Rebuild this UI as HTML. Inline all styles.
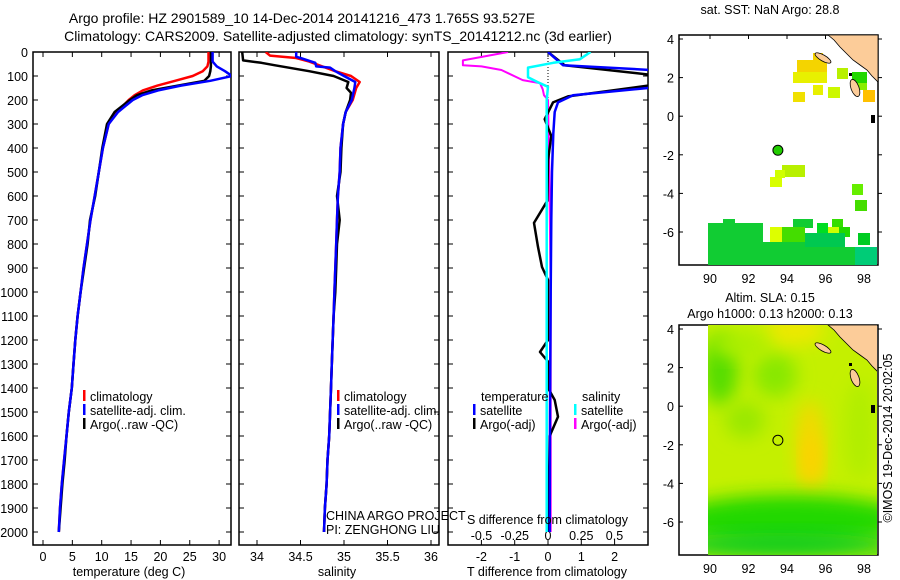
<!DOCTYPE html>
<html><head><meta charset="utf-8"><style>
html,body{margin:0;padding:0;background:#fff;}
svg{display:block;font-family:"Liberation Sans",sans-serif;}
text{font-size:12.5px;fill:#000;}
</style></head><body>
<svg id="c" width="900" height="580" viewBox="0 0 900 580" xmlns="http://www.w3.org/2000/svg">
<defs>
<clipPath id="cp1"><rect x="33" y="52" width="198" height="493"/></clipPath>
<clipPath id="cp2"><rect x="239" y="52" width="200" height="493"/></clipPath>
<clipPath id="cp3"><rect x="448" y="52" width="200" height="493"/></clipPath>
<clipPath id="cm1"><rect x="679" y="35" width="199" height="230"/></clipPath>
<clipPath id="cm2"><rect x="708" y="325" width="169" height="230"/></clipPath>
<filter id="blur" x="-50%" y="-50%" width="200%" height="200%"><feGaussianBlur stdDeviation="9"/></filter>
</defs>
<text x="302" y="23" text-anchor="middle" style="font-size:14px">Argo profile: HZ 2901589_10 14-Dec-2014 20141216_473 1.765S 93.527E</text>
<text x="338" y="41" text-anchor="middle" style="font-size:14px">Climatology: CARS2009. Satellite-adjusted climatology: synTS_20141212.nc (3d earlier)</text>
<g id="g1"></g>
<g id="g2"></g>
<g id="g3"></g>
<g id="m1"></g>
<g id="m2"></g>
<text transform="translate(892,438) rotate(-90)" text-anchor="middle">©IMOS 19-Dec-2014 20:02:05</text>
</svg>
<script>
// ---- profile data ----
const depthTicks=[0,100,200,300,400,500,600,700,800,900,1000,1100,1200,1300,1400,1500,1600,1700,1800,1900,2000];
const tempTicks=[0,5,10,15,20,25,30];
const salTicks=[34,34.5,35,35.5,36];
const salTickLabels=["34","34.5","35","35.5","36"];
const dtTicks=[-2,-1,0,1,2];
const dsTicks=[-0.5,-0.25,0,0.25,0.5];
const dsTickLabels=["-0.5","-0.25","0","0.25","0.5"];
const deepDepths=[300,400,500,600,700,800,900,1000,1100,1200,1300,1400,1500,1600,1700,1800,1900,2000];
const tClimDepth=[0,40,60,80,100,120,140,160,180,200,250];
const tClim=[28.2,28.2,28.0,27.2,25.5,22.5,19.5,17.0,15.6,14.6,12.6];
const tSatDepth=[0,40,60,80,100,120,140,160,180,200,250];
const tSat=[28.9,28.9,29.6,31.0,32.2,28.5,23.5,19.6,16.9,15.3,12.8];
const tArgoDepth=[0,40,60,80,100,120,140,160,180,200,250];
const tArgo=[28.6,28.6,28.6,28.5,28.3,27.5,23.0,18.5,16.0,14.8,12.2];
const tDeep=[11.2,10.2,9.5,8.8,8.1,7.5,6.9,6.4,5.9,5.5,5.2,4.9,4.4,4.0,3.6,3.2,2.9,2.7];
const tArgoDeep=[10.9,10.1,9.5,8.9,8.0,7.6,7.0,6.4,5.9,5.5,5.2,4.9,4.4,4.0,3.7,3.3,3.0,2.7];
const sClimDepth=[0,15,25,40,60,80,100,125,150,200,250];
const sClim=[34.1,34.15,34.45,34.6,34.75,34.9,35.08,35.18,35.14,35.1,35.02];
const sSatDepth=[0,20,25,45,60,65,80,100,125,150,200,250];
const sSat=[34.45,34.45,34.5,34.67,34.68,34.84,34.9,35.0,35.13,35.12,35.09,35.02];
const sArgoDepth=[0,35,45,55,80,100,125,150,170,200,250];
const sArgo=[33.83,33.84,34.05,34.2,34.6,34.88,35.05,35.03,35.08,35.07,35.02];
const sDeep=[34.99,34.96,34.95,34.93,34.92,34.91,34.90,34.89,34.88,34.87,34.86,34.85,34.84,34.83,34.81,34.80,34.78,34.77];
const sArgoDeep=[34.99,34.97,34.96,34.92,34.95,34.92,34.91,34.90,34.88,34.87,34.86,34.85,34.84,34.83,34.81,34.80,34.78,34.77];
const dtSatDepth=[0,55,75,100,150,180,210,250,340,500,700,1000,1500,2000];
const dtSat=[0,0.45,3.1,3.6,3.0,0.75,0.3,0.2,0.16,0.12,0.1,0.08,0.06,0.05];
const dtArgoDepth=[0,55,95,120,140,185,210,280,350,450,620,712,812,896,950,1000,1200,1250,1290,1400,1450,1520,1600,1800,2000];
const dtArgo=[0,0.5,3.1,3.6,3.0,0.6,0.15,-0.1,0.1,0,-0.02,-0.42,-0.3,-0.18,0,0,0,-0.24,0,0,0.2,0.3,0.05,0.03,0.02];
const dsSatDepth=[0,30,45,65,105,125,145,200,1000,2000];
const dsSat=[0.32,0.24,0.04,-0.15,-0.15,-0.08,0,-0.01,-0.01,-0.01];
const dsArgoDepth=[0,35,55,60,75,117,130,155,180,200,500,1000,1500,2000];
const dsArgo=[-0.3,-0.64,-0.64,-0.5,-0.35,-0.19,-0.06,-0.04,-0.03,0,0.01,0.02,0.02,0.02];

const NS="http://www.w3.org/2000/svg";
function mk(tag,attrs,parent){const e=document.createElementNS(NS,tag);for(const k in attrs)e.setAttribute(k,attrs[k]);parent.appendChild(e);return e;}
const yD=d=>52+d*0.24;
const xT=t=>43+t*5.87;
const xS=s=>257+(s-34)*87;
const xDT=v=>548+v*33.3;
const xDS=v=>548+v*133;

function frame(g,x0,x1,name){
  const r=mk('rect',{x:x0,y:52,width:x1-x0,height:493,fill:'none',stroke:'#000','stroke-width':1.5},g);
  
  
  depthTicks.forEach(d=>{
    mk('line',{x1:x0,x2:x0+5,y1:yD(d),y2:yD(d),stroke:'#000'},g);
    mk('line',{x1:x1,x2:x1-5,y1:yD(d),y2:yD(d),stroke:'#000'},g);
  });
}
function xticks(g,vals,labels,fx,y,name){
  vals.forEach((v,i)=>{
    const x=fx(v);
    mk('line',{x1:x,x2:x,y1:545,y2:540,stroke:'#000'},g);
    mk('line',{x1:x,x2:x,y1:52,y2:57,stroke:'#000'},g);
    const t=mk('text',{x:x,y:y,'text-anchor':'middle'},g);
    t.textContent=labels[i];
    
    
  });
}
function series(g,depths,vals,fx,color,clip,name,w){
  const pts=depths.map((d,i)=>fx(vals[i]).toFixed(1)+','+yD(d).toFixed(1)).join(' ');
  const p=mk('polyline',{points:pts,fill:'none',stroke:color,'stroke-width':w||2.5,'clip-path':'url(#'+clip+')','stroke-linejoin':'round'},g);
  
  
}
function text(g,x,y,s,name,anchor){
  const t=mk('text',{x:x,y:y,'text-anchor':anchor||'start'},g);t.textContent=s;
  
  
  return t;
}
function legend(g,x,y,color,label,name){
  mk('rect',{x:x,y:y-11,width:2.5,height:11,fill:color},g);
  text(g,x+7,y,label,name);
}
// Panel 1
const g1=document.getElementById('g1');
frame(g1,33,231,'temperature');
depthTicks.forEach(d=>{text(g1,28,yD(d)+5,String(d),'depth-tick-label','end');});
xticks(g1,tempTicks,tempTicks.map(String),xT,561,'temperature');
series(g1,tClimDepth.concat(deepDepths),tClim.concat(tDeep),xT,'#f00','cp1','temperature-climatology-line');
series(g1,tArgoDepth.concat(deepDepths),tArgo.concat(tArgoDeep),xT,'#000','cp1','temperature-argo-line');
series(g1,tSatDepth.concat(deepDepths),tSat.concat(tDeep),xT,'#00f','cp1','temperature-satellite-line');
legend(g1,83,401,'#f00','climatology','legend-climatology');
legend(g1,83,415,'#00f','satellite-adj. clim.','legend-satellite');
legend(g1,83,429,'#000','Argo(..raw -QC)','legend-argo');
text(g1,129,576,'temperature (deg C)','temperature-axis-title','middle');
// Panel 2
const g2=document.getElementById('g2');
frame(g2,239,439,'salinity');
xticks(g2,salTicks,salTickLabels,xS,561,'salinity');
series(g2,sClimDepth.concat(deepDepths),sClim.concat(sDeep),xS,'#f00','cp2','salinity-climatology-line');
series(g2,sArgoDepth.concat(deepDepths),sArgo.concat(sArgoDeep),xS,'#000','cp2','salinity-argo-line');
series(g2,sSatDepth.concat(deepDepths),sSat.concat(sDeep),xS,'#00f','cp2','salinity-satellite-line');
legend(g2,337,401,'#f00','climatology','legend-climatology');
legend(g2,337,415,'#00f','satellite-adj. clim.','legend-satellite');
legend(g2,337,429,'#000','Argo(..raw -QC)','legend-argo');
text(g2,326,520,'CHINA ARGO PROJECT','project-label');
text(g2,326,534,'PI: ZENGHONG LIU','pi-label');
text(g2,337,576,'salinity','salinity-axis-title','middle');
// Panel 3
const g3=document.getElementById('g3');
frame(g3,448,648,'difference');
mk('line',{x1:548,x2:548,y1:52,y2:112,stroke:'#000','stroke-dasharray':'1,2'},g3);
xticks(g3,dtTicks,dtTicks.map(String),xDT,561,'t-diff');
dsTicks.forEach((v,i)=>{text(g3,xDS(v),540,dsTickLabels[i],'s-diff-tick-label','middle');});
series(g3,dsArgoDepth,dsArgo,xDS,'#f0f','cp3','salinity-diff-argo-line',2);
series(g3,dtArgoDepth,dtArgo,xDT,'#000','cp3','temperature-diff-argo-line');
series(g3,dtSatDepth,dtSat,xDT,'#00f','cp3','temperature-diff-satellite-line');
series(g3,dsSatDepth,dsSat,xDS,'#0ff','cp3','salinity-diff-satellite-line');
text(g3,481,401,'temperature','legend-temperature-header');
legend(g3,473,415,'#00f','satellite','legend-t-satellite');
legend(g3,473,429,'#000','Argo(-adj)','legend-t-argo');
text(g3,582,401,'salinity','legend-salinity-header');
legend(g3,574,415,'#0ff','satellite','legend-s-satellite');
legend(g3,574,429,'#f0f','Argo(-adj)','legend-s-argo');
text(g3,467,524,'S difference from climatology','s-diff-axis-title');
text(g3,547,576,'T difference from climatology','t-diff-axis-title','middle');

// ---- maps ----
const mapLonTicks=[90,92,94,96,98];
const mapLatTicks=[4,2,0,-2,-4,-6];
const argoLon=93.527, argoLat=-1.765;
function mapAxes(g,top,clip,name){
  const xL=lon=>710+(lon-90)*19.25;
  const yL=lat=>top+4+(4-lat)*19.3;
  mk('rect',{x:679,y:top,width:199,height:230,fill:'none',stroke:'#000','stroke-width':1.5},g);
  mapLonTicks.forEach(v=>{const x=xL(v);mk('line',{x1:x,x2:x,y1:top,y2:top+4,stroke:'#000'},g);mk('line',{x1:x,x2:x,y1:top+230,y2:top+226,stroke:'#000'},g);text(g,x,top+248,String(v),name+'-lon-label','middle');});
  mapLatTicks.forEach(v=>{const y=yL(v);mk('line',{x1:679,x2:683,y1:y,y2:y,stroke:'#000'},g);mk('line',{x1:878,x2:882,y1:y,y2:y,stroke:'#000'},g);text(g,674,y+5,String(v),name+'-lat-label','end');});
  return [xL,yL];
}
function land(g,top,clip){
  const o=top-35;
  const p=mk('polygon',{points:`828,${35+o} 834,${40+o} 840,${47+o} 846,${53+o} 853,${60+o} 860,${65+o} 867,${70+o} 872,${76+o} 878,${82+o} 878,${35+o}`,fill:'#fccc99',stroke:'#000','stroke-width':0.8,'clip-path':'url(#'+clip+')'},g);
  
  mk('ellipse',{cx:823,cy:58+o,rx:9,ry:3,transform:`rotate(30 823 ${58+o})`,fill:'#fccc99',stroke:'#000','stroke-width':0.8},g);
  mk('ellipse',{cx:855,cy:88+o,rx:4,ry:9,transform:`rotate(-20 855 ${88+o})`,fill:'#fccc99',stroke:'#000','stroke-width':0.8},g);
  mk('rect',{x:849,y:73+o,width:3,height:3,fill:'#000'},g);
  mk('rect',{x:871,y:115+o,width:4,height:8,fill:'#000'},g);
}
// Map 1: SST cells [x,y,w,h,color] in pixels
const sstCells=[
 [813,53,10,10,'#f4d000'],[797,60,30,12,'#f4d400'],[793,72,34,11,'#e8f000'],[793,92,12,10,'#f0e000'],
 [813,85,10,10,'#e8f000'],[828,87,12,11,'#ccf800'],[837,68,11,11,'#b8f000'],[852,72,15,11,'#22d800'],
 [857,83,10,7,'#88ee00'],[863,90,12,12,'#ffc000'],[782,165,23,12,'#b8f000'],[770,177,12,10,'#d8ff00'],
 [775,170,10,8,'#d0ff00'],[852,184,11,11,'#66ee00'],[855,200,12,11,'#44dd00'],
 [708,223,55,42,'#11cc33'],[723,219,12,8,'#11cc33'],[750,223,13,8,'#11cc33'],[793,219,20,9,'#11cc33'],
 [770,227,12,15,'#ddff00'],[782,227,23,15,'#44dd00'],[817,223,11,10,'#00dd22'],[832,219,11,8,'#33dd00'],
 [828,227,22,10,'#22d800'],[828,227,11,10,'#ccff00'],[805,233,40,14,'#00c850'],[858,233,12,12,'#00cc22'],
 [763,242,42,23,'#11cc33'],[805,247,50,18,'#11cc33'],[855,247,22,18,'#00cc77']
];
const m1=document.getElementById('m1');
text(m1,770,14,'sat. SST: NaN Argo: 28.8','sst-map-title','middle');
const [xL1,yL1]=mapAxes(m1,35,'cm1','sst-map');
sstCells.forEach(c=>{const r=mk('rect',{x:c[0],y:c[1],width:c[2],height:c[3],fill:c[4],'clip-path':'url(#cm1)'},m1);
  
  });
land(m1,35,'cm1');
mk('circle',{cx:xL1(argoLon),cy:yL1(argoLat),r:5,fill:'#22cc00',stroke:'#000'},m1);
// Map 2: SLA field
const m2=document.getElementById('m2');
text(m2,770,302,'Altim. SLA: 0.15','sla-map-title-1','middle');
text(m2,770,318,'Argo h1000: 0.13 h2000: 0.13','sla-map-title-2','middle');
const [xL2,yL2]=mapAxes(m2,325,'cm2','sla-map');
const fg=mk('g',{'clip-path':'url(#cm2)'},m2);
mk('rect',{x:708,y:325,width:170,height:230,fill:'#c4f000'},fg);
const blobs=[[720,370,18,35,'#55dd00'],[775,375,22,22,'#88e800'],[745,420,20,18,'#99e800'],[795,330,30,15,'#eee800'],
 [810,445,14,45,'#f4d800'],[812,460,8,25,'#ffd000'],[740,345,30,12,'#aaee00'],[790,520,120,25,'#22d800'],[780,545,120,12,'#11cc22'],[860,430,15,50,'#b0ee00']];
blobs.forEach(b=>mk('ellipse',{cx:b[0],cy:b[1],rx:b[2],ry:b[3],fill:b[4],filter:'url(#blur)'},fg));
land(m2,325,'cm2');
mk('circle',{cx:xL2(argoLon),cy:yL2(argoLat),r:5,fill:'none',stroke:'#000'},m2);
</script>
</body></html>
